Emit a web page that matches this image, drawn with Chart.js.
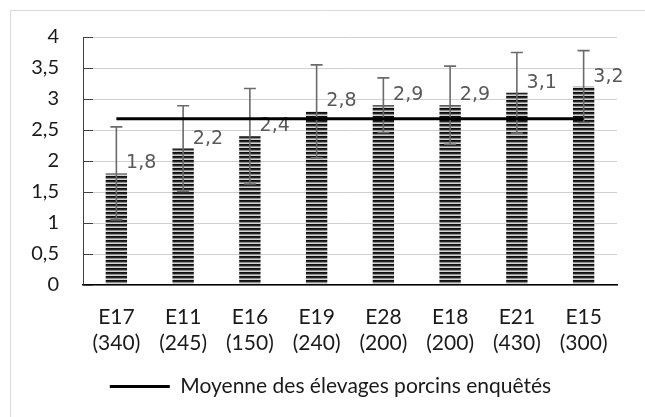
<!DOCTYPE html>
<html lang="fr">
<head>
<meta charset="UTF-8" />
<title>Moyenne des élevages porcins enquêtés</title>
<script src="https://cdn.jsdelivr.net/npm/chart.js"></script>
<style>
  html, body { margin: 0; padding: 0; background: #fff; }
  #wrap { position: relative; width: 645px; height: 417px; }
</style>
</head>
<body>
<div id="wrap"><canvas id="chart" width="645" height="417"></canvas></div>
<script>
  // data
  const farms = ['E17', 'E11', 'E16', 'E19', 'E28', 'E18', 'E21', 'E15'];
  const herdSizes = ['(340)', '(245)', '(150)', '(240)', '(200)', '(200)', '(430)', '(300)'];
  const scores = [1.8, 2.2, 2.4, 2.8, 2.9, 2.9, 3.1, 3.2];
  const errors = [0.75, 0.69, 0.77, 0.75, 0.44, 0.63, 0.65, 0.58];
  const meanAll = [2.68, 2.68, 2.68, 2.68, 2.68, 2.68, 2.68, 2.68];
  const yTicks = [0, 0.5, 1, 1.5, 2, 2.5, 3, 3.5, 4];

  const fmt = v => String(v).replace('.', ',');

  // horizontal stripe fill like the office pattern
  function stripes() {
    const c = document.createElement('canvas');
    c.width = 4; c.height = 4;
    const g = c.getContext('2d');
    const rows = ['#0d0d0d', '#262626', '#8c8c8c', '#d4d4d4'];
    rows.forEach((col, i) => { g.fillStyle = col; g.fillRect(0, i, 4, 1); });
    return g.createPattern(c, 'repeat');
  }

  // frame, inner tick marks, error bars and value labels
  const extras = {
    id: 'extras',
    afterLayout(chart) {
      // legend sits a little right of the canvas centre in the original
      chart.legend.left += 17;
      chart.legend.right += 17;
    },
    beforeDraw(chart) {
      const ctx = chart.ctx;
      ctx.save();
      ctx.strokeStyle = '#d9d9d9';
      ctx.lineWidth = 1;
      ctx.beginPath();
      ctx.moveTo(10.5, 417); ctx.lineTo(10.5, 10.5); ctx.lineTo(645, 10.5);
      ctx.stroke();
      ctx.restore();
    },
    afterDatasetDraw(chart, args) {
      if (args.index !== 1) return;
      const ctx = chart.ctx;
      const y = chart.scales.y;
      const area = chart.chartArea;
      ctx.save();
      // small inside ticks on the value axis
      ctx.strokeStyle = '#404040';
      ctx.lineWidth = 1;
      yTicks.forEach(t => {
        const py = Math.round(y.getPixelForValue(t)) + 0.5;
        ctx.beginPath();
        ctx.moveTo(area.left, py); ctx.lineTo(area.left + 10, py);
        ctx.stroke();
      });
      const bars = chart.getDatasetMeta(1).data;
      bars.forEach((bar, i) => {
        const top = y.getPixelForValue(scores[i] + errors[i]);
        const bot = y.getPixelForValue(scores[i] - errors[i]);
        ctx.strokeStyle = '#6b6b6b';
        ctx.lineWidth = 1.6;
        ctx.beginPath();
        ctx.moveTo(bar.x, top); ctx.lineTo(bar.x, bot);
        ctx.moveTo(bar.x - 6, top); ctx.lineTo(bar.x + 6, top);
        ctx.moveTo(bar.x - 6, bot); ctx.lineTo(bar.x + 6, bot);
        ctx.stroke();
        ctx.fillStyle = '#595959';
        ctx.font = '19px "DejaVu Sans"';
        ctx.textAlign = 'left';
        ctx.textBaseline = 'middle';
        ctx.fillText(fmt(scores[i]), bar.x + bar.width / 2 - 1, bar.y - 10);
      });
      ctx.restore();
    }
  };

  new Chart(document.getElementById('chart'), {
    data: {
      labels: farms.map((f, i) => [f, herdSizes[i]]),
      datasets: [
        {
          type: 'line',
          label: 'Moyenne des élevages porcins enquêtés',
          data: meanAll,
          borderColor: '#000',
          backgroundColor: '#000',
          borderWidth: 3,
          pointRadius: 0,
          order: 0
        },
        {
          type: 'bar',
          label: 'Score',
          data: scores,
          backgroundColor: stripes(),
          barPercentage: 0.32,
          categoryPercentage: 1,
          order: 1
        }
      ]
    },
    options: {
      responsive: false,
      animation: false,
      layout: { padding: { left: 10, right: 28, top: 37, bottom: 10 } },
      scales: {
        x: {
          offset: true,
          grid: { display: false },
          border: { color: '#000', width: 1.5 },
          ticks: { color: '#1a1a1a', font: { family: 'Lato', size: 21 }, padding: 12, maxRotation: 0 },
          afterFit: s => { s.height = 83; }
        },
        y: {
          min: 0, max: 4,
          afterBuildTicks: s => { s.ticks = yTicks.map(v => ({ value: v })); },
          grid: { color: '#d0d0d0', drawTicks: false },
          border: { color: '#404040', width: 1 },
          ticks: { color: '#1a1a1a', font: { family: 'Lato', size: 20 }, padding: 24, callback: v => fmt(v) },
          afterFit: s => { s.width = 73; }
        }
      },
      plugins: {
        legend: {
          position: 'bottom',
          labels: {
            filter: item => item.datasetIndex === 0,
            usePointStyle: true,
            pointStyle: 'line',
            pointStyleWidth: 60,
            boxHeight: 18,
            color: '#1a1a1a',
            font: { family: 'Lato', size: 21 },
            padding: 8
          }
        },
        tooltip: { enabled: false }
      }
    },
    plugins: [extras]
  });
</script>
</body>
</html>
